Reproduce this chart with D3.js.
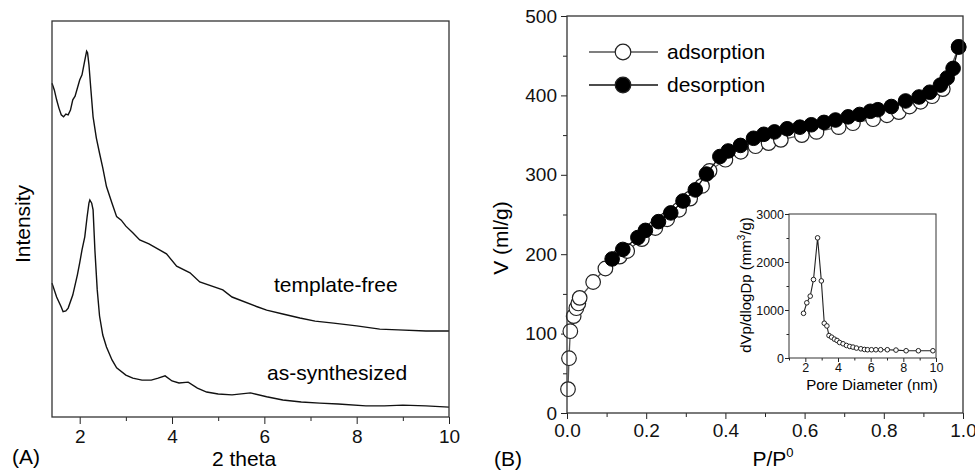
<!DOCTYPE html>
<html>
<head>
<meta charset="utf-8">
<script src="https://cdn.jsdelivr.net/npm/d3@7"></script>
<style>
  body { margin: 0; background: #fff; }
  svg { display: block; font-family: "Liberation Sans", Arial, sans-serif; }
  .tick text { fill: #111; }
  .tick line { stroke: #222; }
</style>
</head>
<body>
<div id="chart"></div>
<script>
// (A) XRD patterns, 2 theta vs intensity (a.u.)
const thetaFree = [1.40, 1.45, 1.50, 1.55, 1.60, 1.65, 1.70, 1.75, 1.80, 1.85, 1.90, 2.00, 2.05, 2.10, 2.15, 2.17, 2.20, 2.24, 2.29, 2.36, 2.43, 2.50, 2.58, 2.70, 2.80, 2.90, 3.00, 3.15, 3.30, 3.50, 3.70, 3.88, 4.10, 4.39, 4.60, 5.10, 5.30, 5.83, 6.05, 6.40, 6.77, 7.10, 7.50, 8.00, 8.50, 8.90, 9.50, 10.00];
const intFree = [84.3, 82.6, 80.1, 78.0, 76.3, 75.8, 76.5, 76.3, 77.5, 80.1, 81.0, 85.1, 86.4, 89.4, 92.4, 92.0, 89.0, 83.0, 75.8, 70.5, 66.6, 62.9, 58.2, 54.0, 50.6, 49.7, 48.2, 46.5, 44.7, 43.7, 42.4, 41.2, 38.1, 36.4, 34.1, 32.1, 30.3, 27.9, 27.0, 26.0, 25.0, 24.2, 23.7, 23.0, 22.2, 22.0, 21.7, 21.7];

const thetaSyn = [1.40, 1.50, 1.60, 1.64, 1.70, 1.75, 1.85, 1.95, 2.00, 2.05, 2.11, 2.16, 2.20, 2.22, 2.26, 2.29, 2.33, 2.38, 2.43, 2.50, 2.58, 2.70, 2.80, 3.00, 3.15, 3.35, 3.55, 3.70, 3.85, 4.00, 4.15, 4.35, 4.55, 4.75, 5.00, 5.30, 5.70, 6.05, 6.40, 6.80, 7.20, 7.60, 8.20, 8.60, 9.00, 9.50, 10.00];
const intSyn = [33.8, 30.3, 27.8, 26.6, 26.8, 27.5, 30.8, 35.9, 38.9, 42.2, 45.5, 50.5, 54.0, 54.8, 54.0, 52.3, 42.0, 32.1, 25.5, 20.7, 17.7, 14.4, 12.4, 10.6, 9.8, 9.3, 9.3, 9.8, 10.4, 9.1, 8.6, 8.8, 7.3, 6.3, 5.8, 5.6, 6.1, 5.1, 4.3, 3.8, 3.5, 3.3, 2.8, 2.8, 3.0, 2.8, 2.5];

// (B) N2 isotherm
const pAds = [0.0025, 0.005, 0.0084, 0.0168, 0.0236, 0.0286, 0.032, 0.066, 0.097, 0.133, 0.152, 0.189, 0.223, 0.253, 0.283, 0.311, 0.341, 0.360, 0.400, 0.439, 0.476, 0.509, 0.540, 0.593, 0.630, 0.686, 0.722, 0.773, 0.808, 0.838, 0.865, 0.893, 0.922, 0.949, 0.989];
const vAds = [30, 69, 103, 122, 132, 138, 145, 165, 182, 197, 204, 219, 233, 244, 256, 270, 286, 305, 319, 329, 336, 340, 344, 350, 354, 360, 365, 370, 375, 379, 386, 392, 399, 408, 461];

const pDes = [0.989, 0.975, 0.960, 0.943, 0.916, 0.889, 0.855, 0.819, 0.785, 0.766, 0.739, 0.710, 0.678, 0.649, 0.617, 0.588, 0.556, 0.524, 0.497, 0.471, 0.438, 0.407, 0.386, 0.352, 0.324, 0.293, 0.262, 0.231, 0.198, 0.179, 0.141, 0.114];
const vDes = [461, 434, 422, 413, 404, 398, 393, 386, 382, 380, 376, 373, 369, 366, 363, 360, 358, 354, 351, 346, 337, 330, 323, 301, 281, 267, 252, 241, 230, 221, 206, 194];

// inset: pore size distribution
const poreD = [1.89, 2.09, 2.30, 2.50, 2.75, 2.98, 3.16, 3.32, 3.45, 3.61, 3.78, 3.94, 4.10, 4.31, 4.52, 4.72, 4.92, 5.13, 5.40, 5.62, 5.81, 6.05, 6.32, 6.61, 7.02, 7.55, 8.17, 8.92, 9.81];
const poreV = [931, 1150, 1289, 1634, 2503, 1606, 724, 668, 468, 434, 393, 365, 323, 296, 261, 240, 227, 207, 192, 178, 172, 172, 172, 172, 172, 165, 151, 151, 151];

const xTicksA = [2, 4, 6, 8, 10];
const xMinorA = [3, 5, 7, 9];
const xTicksB = [0, 0.2, 0.4, 0.6, 0.8, 1.0];
const xMinorB = [0.1, 0.3, 0.5, 0.7, 0.9];
const yTicksB = [0, 100, 200, 300, 400, 500];
const yMinorB = [50, 150, 250, 350, 450];
const xTicksIn = [2, 4, 6, 8, 10];
const xMinorIn = [1, 3, 5, 7, 9];
const yTicksIn = [0, 1000, 2000, 3000];
const yMinorIn = [500, 1500, 2500];

const width = 975, height = 470;
const svg = d3.select("#chart").append("svg")
  .attr("width", width).attr("height", height);

function axisGroup(g, axis, fs) {
  g.call(axis);
  g.select(".domain").remove();
  g.selectAll("text").attr("font-size", fs);
}

// ---------- panel A ----------
const xA = d3.scaleLinear().domain([1.4, 10]).range([52, 449]);
const yA = d3.scaleLinear().domain([0, 100]).range([417, 21]);

svg.append("g").attr("transform", "translate(0,417)")
  .call(g => axisGroup(g, d3.axisBottom(xA).tickValues(xTicksA).tickSize(7).tickPadding(6).tickFormat(d3.format("d")), 19));
svg.append("g").attr("transform", "translate(0,417)")
  .call(g => axisGroup(g, d3.axisBottom(xA).tickValues(xMinorA).tickSize(4).tickFormat(""), 19));

const lineA = d3.line().x(d => xA(d[0])).y(d => yA(d[1]));
svg.append("path").datum(d3.zip(thetaFree, intFree))
  .attr("d", lineA).attr("fill", "none").attr("stroke", "#111").attr("stroke-width", 1.4);
svg.append("path").datum(d3.zip(thetaSyn, intSyn))
  .attr("d", lineA).attr("fill", "none").attr("stroke", "#111").attr("stroke-width", 1.4);

svg.append("rect").attr("x", 52).attr("y", 21).attr("width", 397).attr("height", 396)
  .attr("fill", "none").attr("stroke", "#333").attr("stroke-width", 1.3);

svg.append("text").attr("x", 274).attr("y", 292).attr("font-size", 21).text("template-free");
svg.append("text").attr("x", 267).attr("y", 380).attr("font-size", 21).text("as-synthesized");
svg.append("text").attr("x", 244).attr("y", 466).attr("font-size", 21).attr("text-anchor", "middle").text("2 theta");
svg.append("text").attr("x", 12).attr("y", 464).attr("font-size", 21).text("(A)");
svg.append("text").attr("transform", "translate(30,224) rotate(-90)")
  .attr("font-size", 21).attr("text-anchor", "middle").text("Intensity");

// ---------- panel B ----------
const xB = d3.scaleLinear().domain([0, 1]).range([567, 963]);
const yB = d3.scaleLinear().domain([0, 500]).range([413, 16]);

svg.append("g").attr("transform", "translate(0,413)")
  .call(g => axisGroup(g, d3.axisBottom(xB).tickValues(xTicksB).tickSize(6).tickPadding(5).tickFormat(d3.format(".1f")), 19));
svg.append("g").attr("transform", "translate(0,413)")
  .call(g => axisGroup(g, d3.axisBottom(xB).tickValues(xMinorB).tickSize(4).tickFormat(""), 19));
svg.append("g").attr("transform", "translate(567,0)")
  .call(g => axisGroup(g, d3.axisLeft(yB).tickValues(yTicksB).tickSize(6).tickPadding(4), 19));
svg.append("g").attr("transform", "translate(567,0)")
  .call(g => axisGroup(g, d3.axisLeft(yB).tickValues(yMinorB).tickSize(4).tickFormat(""), 19));

const lineB = d3.line().x(d => xB(d[0])).y(d => yB(d[1]));
const ads = d3.zip(pAds, vAds), des = d3.zip(pDes, vDes);
svg.append("path").datum(ads).attr("d", lineB).attr("fill", "none").attr("stroke", "#555").attr("stroke-width", 1.3);
svg.append("g").selectAll("circle").data(ads).join("circle")
  .attr("cx", d => xB(d[0])).attr("cy", d => yB(d[1])).attr("r", 7.3)
  .attr("fill", "#fff").attr("stroke", "#222").attr("stroke-width", 1.2);
svg.append("path").datum(des).attr("d", lineB).attr("fill", "none").attr("stroke", "#111").attr("stroke-width", 1.3);
svg.append("g").selectAll("circle").data(des).join("circle")
  .attr("cx", d => xB(d[0])).attr("cy", d => yB(d[1])).attr("r", 7.3)
  .attr("fill", "#000").attr("stroke", "#000").attr("stroke-width", 1);

svg.append("rect").attr("x", 567).attr("y", 16).attr("width", 396).attr("height", 397)
  .attr("fill", "none").attr("stroke", "#333").attr("stroke-width", 1.3);

// legend
const legend = [{ name: "adsorption", fill: "#fff", line: "#555", y: 52 }, { name: "desorption", fill: "#000", line: "#111", y: 85 }];
const lg = svg.append("g").selectAll("g").data(legend).join("g");
lg.append("line").attr("x1", 589).attr("x2", 658).attr("y1", d => d.y).attr("y2", d => d.y)
  .attr("stroke", d => d.line).attr("stroke-width", 1.3);
lg.append("circle").attr("cx", 623).attr("cy", d => d.y).attr("r", 7.8)
  .attr("fill", d => d.fill).attr("stroke", "#222").attr("stroke-width", 1.2);
lg.append("text").attr("x", 667).attr("y", d => d.y + 7).attr("font-size", 21).text(d => d.name);

const px = svg.append("text").attr("x", 773).attr("y", 466).attr("font-size", 21).attr("text-anchor", "middle");
px.append("tspan").text("P/P");
px.append("tspan").attr("font-size", 13).attr("dy", -9).text("0");
svg.append("text").attr("x", 494).attr("y", 466).attr("font-size", 21).text("(B)");
svg.append("text").attr("transform", "translate(508,238) rotate(-90)")
  .attr("font-size", 21).attr("text-anchor", "middle").text("V (ml/g)");

// ---------- inset ----------
const xI = d3.scaleLinear().domain([1, 10]).range([789, 936]);
const yI = d3.scaleLinear().domain([0, 3000]).range([358, 214]);

svg.append("g").attr("transform", "translate(0,358)")
  .call(g => axisGroup(g, d3.axisBottom(xI).tickValues(xTicksIn).tickSize(4).tickPadding(1).tickFormat(d3.format("d")), 12.5));
svg.append("g").attr("transform", "translate(0,358)")
  .call(g => axisGroup(g, d3.axisBottom(xI).tickValues(xMinorIn).tickSize(2.5).tickFormat(""), 12.5));
svg.append("g").attr("transform", "translate(789,0)")
  .call(g => axisGroup(g, d3.axisLeft(yI).tickValues(yTicksIn).tickSize(4).tickPadding(1).tickFormat(d3.format("d")), 12.5));
svg.append("g").attr("transform", "translate(789,0)")
  .call(g => axisGroup(g, d3.axisLeft(yI).tickValues(yMinorIn).tickSize(2.5).tickFormat(""), 12.5));

const pore = d3.zip(poreD, poreV);
svg.append("path").datum(pore)
  .attr("d", d3.line().x(d => xI(d[0])).y(d => yI(d[1])))
  .attr("fill", "none").attr("stroke", "#222").attr("stroke-width", 1.1);
svg.append("g").selectAll("circle").data(pore).join("circle")
  .attr("cx", d => xI(d[0])).attr("cy", d => yI(d[1])).attr("r", 2.3)
  .attr("fill", "#fff").attr("stroke", "#222").attr("stroke-width", 1);

svg.append("rect").attr("x", 789).attr("y", 214).attr("width", 147).attr("height", 144)
  .attr("fill", "none").attr("stroke", "#333").attr("stroke-width", 1);

svg.append("text").attr("x", 872).attr("y", 390).attr("font-size", 15).attr("text-anchor", "middle").text("Pore Diameter (nm)");
const yl = svg.append("text").attr("transform", "translate(751,285) rotate(-90)")
  .attr("font-size", 15).attr("text-anchor", "middle");
yl.append("tspan").text("dVp/dlogDp (mm");
yl.append("tspan").attr("font-size", 10).attr("dy", -6).text("3");
yl.append("tspan").attr("dy", 6).text("/g)");
</script>
</body>
</html>
